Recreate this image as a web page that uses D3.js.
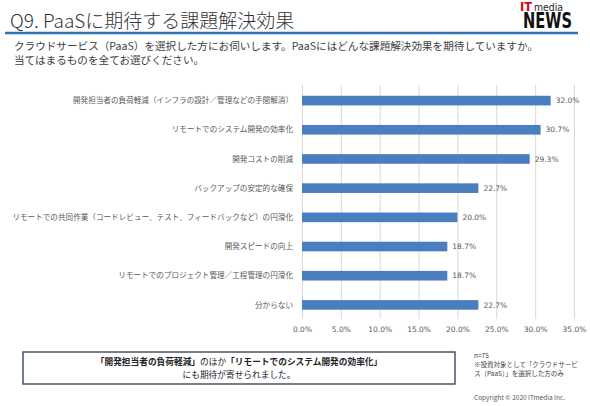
<!DOCTYPE html>
<html>
  <head>
    <meta charset="utf-8">
    <script src="https://d3js.org/d3.v7.min.js"></script>
    <style>
    body {
      margin: 0;
      background-color: #fff;
    }
    svg text {
      font-family: "Noto Sans CJK JP", "DejaVu Sans", sans-serif;
    }
    .num {
      font-family: "DejaVu Sans", sans-serif !important;
    }
    </style>
    <title>PaaSに期待する課題解決効果</title>
  </head>
  <body>
    <div class="chart"></div>
    <script>

      var categories = [
        "開発担当者の負荷軽減（インフラの設計／管理などの手間解消）",
        "リモートでのシステム開発の効率化",
        "開発コストの削減",
        "バックアップの安定的な確保",
        "リモートでの共同作業（コードレビュー、テスト、フィードバックなど）の円滑化",
        "開発スピードの向上",
        "リモートでのプロジェクト管理／工程管理の円滑化",
        "分からない"
      ];

      var values = [32.0, 30.7, 29.3, 22.7, 20.0, 18.7, 18.7, 22.7];

      var xTicks = [0, 5, 10, 15, 20, 25, 30, 35];

      var title = "Q9. PaaSに期待する課題解決効果";
      var question = [
        "クラウドサービス（PaaS）を選択した方にお伺いします。PaaSにはどんな課題解決効果を期待していますか。",
        "当てはまるものを全てお選びください。"
      ];
      var notes = ["n=75", "※投資対象として「クラウドサービ", "ス（PaaS）」を選択した方のみ"];

      var width = 590;
      var height = 406;

      var svg = d3.select(".chart").append("svg")
          .attr("width", width)
          .attr("height", height);

      svg.append("rect")
          .attr("width", width)
          .attr("height", height)
          .attr("fill", "#fff");

      // header
      svg.append("text")
          .attr("x", 10)
          .attr("y", 28)
          .attr("font-size", 19)
          .attr("font-weight", 300)
          .attr("fill", "#333")
          .text(title);

      svg.append("line")
          .attr("x1", 5).attr("x2", 578)
          .attr("y1", 33).attr("y2", 33)
          .attr("stroke", "#2e74b5")
          .attr("stroke-width", 2.5);

      // logo
      var logo = svg.append("g");
      logo.append("text")
          .attr("x", 520).attr("y", 11)
          .attr("font-size", 12)
          .attr("font-weight", "bold")
          .attr("fill", "#e60012")
          .style("font-family", "'DejaVu Sans Condensed', sans-serif")
          .attr("textLength", 12)
          .attr("lengthAdjust", "spacingAndGlyphs")
          .text("IT");
      logo.append("text")
          .attr("x", 534).attr("y", 11)
          .attr("font-size", 11)
          .attr("fill", "#222")
          .style("font-family", "'DejaVu Sans Condensed', sans-serif")
          .attr("textLength", 29)
          .attr("lengthAdjust", "spacingAndGlyphs")
          .text("media");
      logo.append("text")
          .attr("x", 523).attr("y", 28)
          .attr("font-size", 21)
          .attr("font-weight", "bold")
          .attr("fill", "#111")
          .style("font-family", "'DejaVu Sans Condensed', sans-serif")
          .attr("textLength", 49)
          .attr("lengthAdjust", "spacingAndGlyphs")
          .text("NEWS");

      svg.append("g")
          .selectAll("text")
          .data(question)
          .enter().append("text")
          .attr("x", 14)
          .attr("y", function(d, i) { return 50 + i * 14; })
          .attr("font-size", 10.6)
          .attr("fill", "#404040")
          .text(function(d) { return d; });

      // chart
      var x = d3.scaleLinear()
          .domain([0, 35])
          .range([302, 574]);

      var y = d3.scaleBand()
          .domain(categories)
          .range([86, 319.5])
          .paddingInner(0.67)
          .paddingOuter(0.335);

      var grid = svg.append("g")
          .attr("transform", "translate(0,319)")
          .call(d3.axisBottom(x)
              .tickValues(xTicks)
              .tickSize(-234)
              .tickPadding(8)
              .tickFormat(function(d) { return d.toFixed(1) + "%"; }));

      grid.select(".domain").remove();
      grid.selectAll(".tick line")
          .attr("stroke", "#d9d9d9")
          .attr("stroke-width", 1);
      grid.selectAll(".tick text")
          .attr("class", "num")
          .attr("font-size", 7.5)
          .attr("fill", "#595959");

      svg.append("g")
          .selectAll("rect")
          .data(values)
          .enter().append("rect")
          .attr("x", x(0))
          .attr("y", function(d, i) { return y(categories[i]); })
          .attr("width", function(d) { return x(d) - x(0); })
          .attr("height", y.bandwidth())
          .attr("fill", "#4a7ebf");

      svg.append("g")
          .selectAll("text")
          .data(values)
          .enter().append("text")
          .attr("class", "num")
          .attr("x", function(d) { return x(d) + 5; })
          .attr("y", function(d, i) { return y(categories[i]) + y.bandwidth() / 2; })
          .attr("dy", "0.35em")
          .attr("font-size", 7.5)
          .attr("fill", "#595959")
          .text(function(d) { return d.toFixed(1) + "%"; });

      svg.append("g")
          .selectAll("text")
          .data(categories)
          .enter().append("text")
          .attr("x", 293)
          .attr("y", function(d) { return y(d) + y.bandwidth() / 2; })
          .attr("dy", "0.35em")
          .attr("text-anchor", "end")
          .attr("font-size", 7.6)
          .attr("fill", "#595959")
          .text(function(d) { return d; });

      // summary box
      svg.append("rect")
          .attr("x", 23).attr("y", 352)
          .attr("width", 432).attr("height", 32)
          .attr("fill", "#fff")
          .attr("stroke", "#44546a")
          .attr("stroke-width", 1.5);

      var line1 = svg.append("text")
          .attr("x", 239).attr("y", 364.5)
          .attr("text-anchor", "middle")
          .attr("font-size", 8.7)
          .attr("fill", "#222");
      line1.append("tspan").attr("font-weight", "bold").text("「開発担当者の負荷軽減」");
      line1.append("tspan").text("のほか");
      line1.append("tspan").attr("font-weight", "bold").text("「リモートでのシステム開発の効率化」");

      svg.append("text")
          .attr("x", 239).attr("y", 378)
          .attr("text-anchor", "middle")
          .attr("font-size", 8.7)
          .attr("fill", "#222")
          .text("にも期待が寄せられました。");

      svg.append("g")
          .selectAll("text")
          .data(notes)
          .enter().append("text")
          .attr("x", 474)
          .attr("y", function(d, i) { return 358 + i * 9; })
          .attr("font-size", 6.5)
          .attr("fill", "#404040")
          .text(function(d) { return d; });

      svg.append("text")
          .attr("x", 474).attr("y", 400)
          .attr("font-size", 6.5)
          .attr("fill", "#595959")
          .text("Copyright © 2020 ITmedia Inc.");

    </script>
  </body>
</html>
